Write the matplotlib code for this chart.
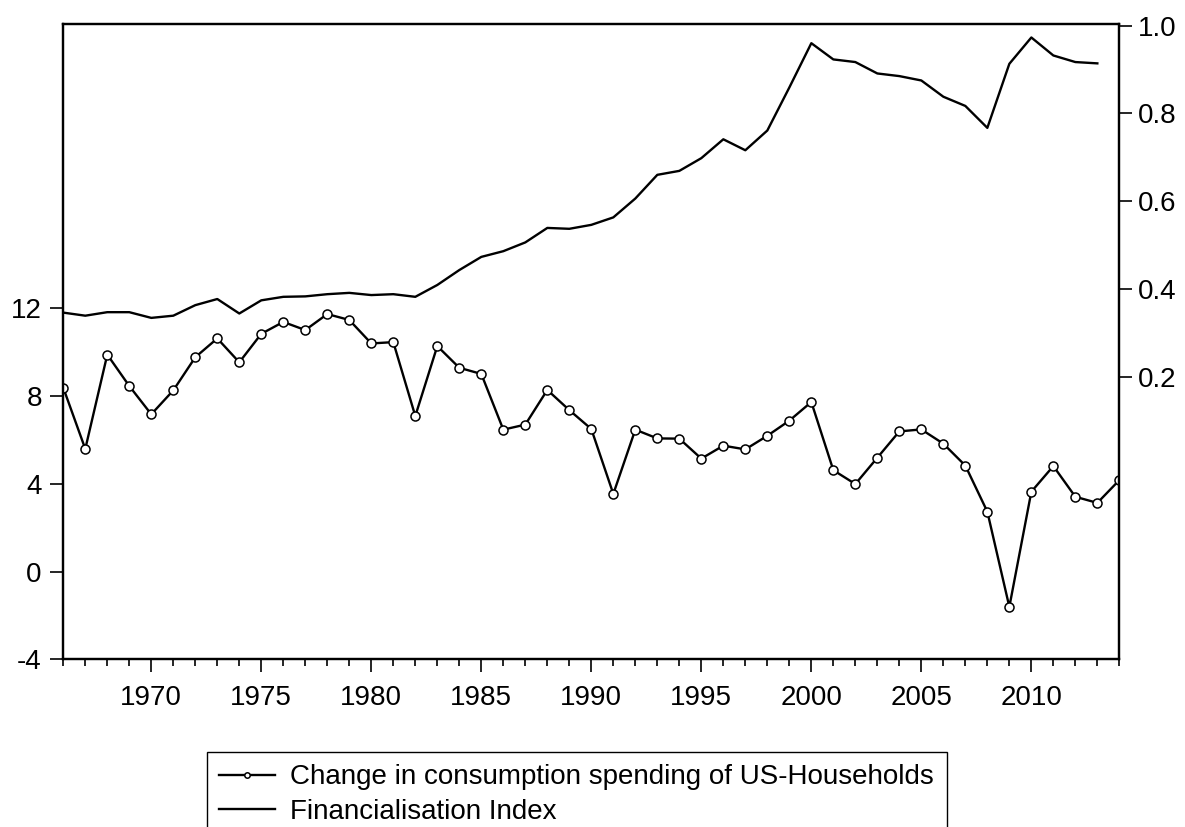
import matplotlib
matplotlib.use('Agg')
import matplotlib.pyplot as plt
from matplotlib.ticker import MultipleLocator

plt.rcParams['font.family'] = ['Liberation Sans', 'DejaVu Sans']
plt.rcParams['axes.unicode_minus'] = False

years = list(range(1966, 2015))
consumption = [8.38, 5.59, 9.89, 8.46, 7.17, 8.26, 9.77, 10.63, 9.54, 10.84,
               11.38, 11.01, 11.74, 11.47, 10.40, 10.46, 7.09, 10.28, 9.29, 9.01,
               6.47, 6.70, 8.28, 7.36, 6.50, 3.54, 6.47, 6.07, 6.06, 5.15,
               5.74, 5.57, 6.19, 6.88, 7.73, 4.62, 3.99, 5.19, 6.39, 6.48,
               5.83, 4.83, 2.73, -1.61, 3.64, 4.81, 3.41, 3.13, 4.17]

fin_years = list(range(1966, 2014))
fin_index = [0.346, 0.339, 0.347, 0.347, 0.334, 0.339, 0.363, 0.377, 0.344, 0.374,
             0.382, 0.383, 0.388, 0.391, 0.386, 0.388, 0.382, 0.409, 0.443, 0.473,
             0.486, 0.506, 0.539, 0.537, 0.546, 0.563, 0.606, 0.660, 0.669, 0.698,
             0.741, 0.716, 0.761, 0.859, 0.960, 0.923, 0.917, 0.891, 0.885, 0.875,
             0.838, 0.817, 0.767, 0.913, 0.973, 0.932, 0.917, 0.914]

left_ticks = [-4, 0, 4, 8, 12]
right_ticks = [0.2, 0.4, 0.6, 0.8, 1.0]
year_ticks = list(range(1970, 2015, 5))

fig = plt.figure(figsize=(11.85, 8.27), dpi=100)
ax = fig.add_axes([0.0534, 0.2028, 0.8912, 0.7678])
ax2 = ax.twinx()

l1, = ax.plot(years, consumption, color='black', lw=1.7, marker='o', ms=6.5,
              mfc='white', mec='black', mew=1.1,
              label='Change in consumption spending of US-Households')
l2, = ax2.plot(fin_years, fin_index, color='black', lw=1.7,
               label='Financialisation Index')

ax.set_xlim(1966, 2014)
ax.set_ylim(-4, 24.95)
ax2.set_ylim(-0.444, 1.003)

ax.set_xticks(year_ticks)
ax.xaxis.set_minor_locator(MultipleLocator(1))
ax.set_yticks(left_ticks)
ax2.set_yticks(right_ticks)
ax2.set_yticklabels(['0.2', '0.4', '0.6', '0.8', '1.0'])

ax.tick_params(axis='x', which='major', direction='out', length=9.5, width=1.2, labelsize=20, pad=9)
ax.tick_params(axis='x', which='minor', direction='out', length=5, width=1.2)
ax.tick_params(axis='y', direction='out', length=9.5, width=1.2, labelsize=20, pad=6)
ax2.tick_params(axis='y', direction='out', length=9.5, width=1.2, labelsize=20, pad=4)

for a in (ax, ax2):
    for s in a.spines.values():
        s.set_linewidth(1.6)

fig.legend(handles=[l1, l2], loc='upper left',
           bbox_to_anchor=(207 / 1185, 1 - 752 / 827), fontsize=20,
           frameon=True, fancybox=False, edgecolor='black', framealpha=1,
           handlelength=2.0, handletextpad=0.55, borderpad=0.45,
           labelspacing=0.3, markerscale=0.6, borderaxespad=0)

fig.savefig('out.png', dpi=100)
